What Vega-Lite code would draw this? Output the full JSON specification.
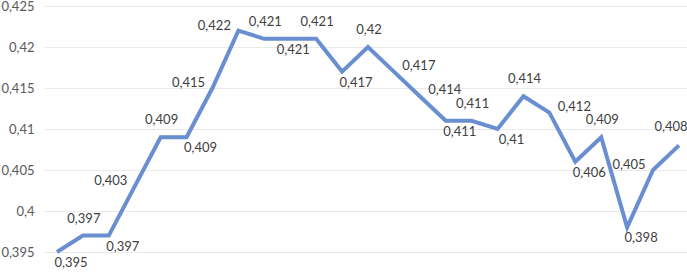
{
  "$schema": "https://vega.github.io/schema/vega-lite/v6.json",
  "autosize": {"type": "none"},
  "padding": {"left": 44, "top": 6, "right": 0, "bottom": 21},
  "width": 643,
  "height": 246,
  "background": "white",
  "config": {
    "view": {"stroke": null},
    "font": "Lato"
  },
  "data": {
    "values": [
      {"i": 1, "v": 0.395}, {"i": 2, "v": 0.397}, {"i": 3, "v": 0.397},
      {"i": 4, "v": 0.403}, {"i": 5, "v": 0.409}, {"i": 6, "v": 0.409},
      {"i": 7, "v": 0.415}, {"i": 8, "v": 0.422}, {"i": 9, "v": 0.421},
      {"i": 10, "v": 0.421}, {"i": 11, "v": 0.421}, {"i": 12, "v": 0.417},
      {"i": 13, "v": 0.42}, {"i": 14, "v": 0.417}, {"i": 15, "v": 0.414},
      {"i": 16, "v": 0.411}, {"i": 17, "v": 0.411}, {"i": 18, "v": 0.41},
      {"i": 19, "v": 0.414}, {"i": 20, "v": 0.412}, {"i": 21, "v": 0.406},
      {"i": 22, "v": 0.409}, {"i": 23, "v": 0.398}, {"i": 24, "v": 0.405},
      {"i": 25, "v": 0.408}
    ]
  },
  "transform": [
    {"window": [
      {"op": "lag", "field": "v", "as": "p"},
      {"op": "lead", "field": "v", "as": "n"},
      {"op": "lead", "field": "v", "param": 2, "as": "n2"}
    ], "sort": [{"field": "i"}], "frame": [null, null]},
    {"joinaggregate": [{"op": "max", "field": "v", "as": "vmax"}]},
    {"calculate": "datum.p == null ? 'below' : datum.n == null ? 'last' : datum.v == datum.vmax ? 'left' : (datum.p < datum.v && datum.v < datum.n) ? 'left' : (datum.p > datum.v && datum.v > datum.n) ? 'right' : (datum.p == datum.v && datum.v == datum.n) ? 'under' : (datum.v < datum.p && datum.v == datum.n) ? (datum.n2 == datum.v ? 'above' : 'below') : (datum.v >= datum.p && datum.v >= datum.n) ? 'above' : 'below'", "as": "side"},
    {"calculate": "replace(format(datum.v, '~g'), '.', ',')", "as": "txt"}
  ],
  "encoding": {
    "x": {"field": "i", "type": "quantitative", "scale": {"domain": [0.5, 25.31], "nice": false, "zero": false}, "axis": null},
    "y": {
      "field": "v", "type": "quantitative",
      "scale": {"domain": [0.395, 0.425], "nice": false, "zero": false},
      "axis": {
        "title": null,
        "values": [0.395, 0.4, 0.405, 0.41, 0.415, 0.42, 0.425],
        "format": "~g",
        "labelExpr": "replace(datum.label, '.', ',')",
        "domain": false, "ticks": false,
        "gridColor": "#e9e9e9", "gridWidth": 1,
        "labelColor": "#595959", "labelFontSize": 13, "labelPadding": 10,
        "labelFont": "Lato"
      }
    }
  },
  "layer": [
    {"mark": {"type": "line", "color": "#6a8fd0", "strokeWidth": 4, "strokeJoin": "miter", "strokeCap": "butt"}},
    {"transform": [{"filter": "datum.side == 'above'"}],
     "mark": {"type": "text", "dx": 1, "dy": -17, "fontSize": 13, "color": "#404040", "baseline": "middle"},
     "encoding": {"text": {"field": "txt"}}},
    {"transform": [{"filter": "datum.side == 'last'"}],
     "mark": {"type": "text", "dx": -8, "dy": -18, "fontSize": 13, "color": "#404040", "baseline": "middle"},
     "encoding": {"text": {"field": "txt"}}},
    {"transform": [{"filter": "datum.side == 'below'"}],
     "mark": {"type": "text", "dx": 14, "dy": 11, "fontSize": 13, "color": "#404040", "baseline": "middle"},
     "encoding": {"text": {"field": "txt"}}},
    {"transform": [{"filter": "datum.side == 'under'"}],
     "mark": {"type": "text", "dx": 3, "dy": 11, "fontSize": 13, "color": "#404040", "baseline": "middle"},
     "encoding": {"text": {"field": "txt"}}},
    {"transform": [{"filter": "datum.side == 'right'"}],
     "mark": {"type": "text", "dx": 25, "dy": -6, "fontSize": 13, "color": "#404040", "baseline": "middle"},
     "encoding": {"text": {"field": "txt"}}},
    {"transform": [{"filter": "datum.side == 'left'"}],
     "mark": {"type": "text", "dx": -24, "dy": -5, "fontSize": 13, "color": "#404040", "baseline": "middle"},
     "encoding": {"text": {"field": "txt"}}}
  ]
}
